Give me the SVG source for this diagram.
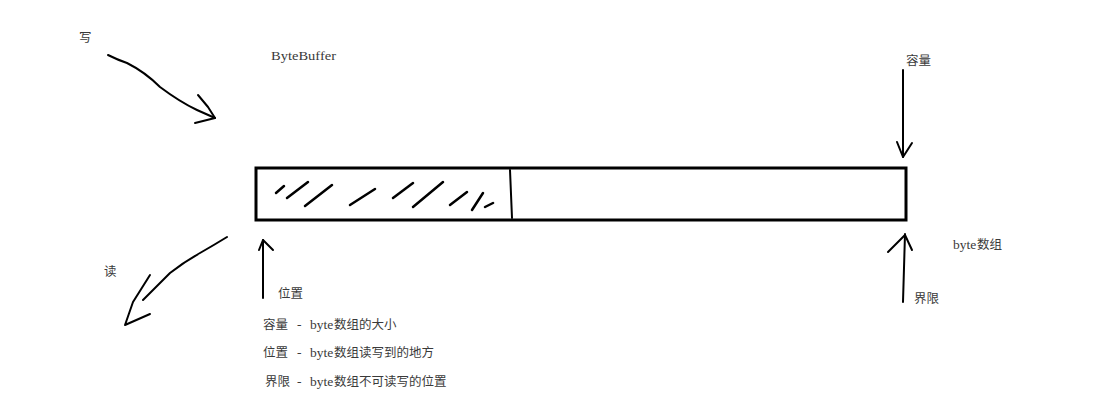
<svg xmlns="http://www.w3.org/2000/svg" width="1099" height="400" viewBox="0 0 1099 400">
<style>
.t{font-family:"Noto Sans CJK SC","Liberation Sans",sans-serif;font-size:12.5px;fill:#3a3a3a}
.l{font-family:"Liberation Serif","Noto Sans CJK SC",serif;font-size:13.5px}
.pen{fill:none;stroke:#000;stroke-width:2;stroke-linecap:round;stroke-linejoin:round}
.hatch{stroke-width:2.5}
</style>
<rect width="1099" height="400" fill="#fff"/>
<g id="buffer">
<rect x="256" y="168" width="650" height="52" fill="#fff" stroke="#000" stroke-width="3"/>
<path class="pen" d="M510 170 L512 218"/>
<g id="hatch" class="pen hatch">
<path d="M276 193 L284 186"/>
<path d="M287 198 L308 182"/>
<path d="M305 206 L332 185"/>
<path d="M350 205 L375 189"/>
<path d="M393 198 L413 183"/>
<path d="M413 207 L443 182"/>
<path d="M450 205 L467 192"/>
<path d="M472 210 L483 193"/>
<path d="M485 207 L493 203"/>
</g>
</g>
<g id="connectors" class="pen">
<path d="M108 55 Q118 60 127 63 Q145 72 160 87 Q180 102 197 110 L215 118"/>
<path d="M198 95 L208 107 L215 118 L195 123"/>
<path d="M227 237 Q214 245 200 253 Q184 262 170 273 L143 300"/>
<path d="M150 275 L133 302 L125 325 L150 314"/>
<path d="M903 70 L903 157"/>
<path d="M897 142 L903 157 L912 143"/>
<path d="M903 302 L905 234"/>
<path d="M888 252 L905 235 L912 250"/>
<path d="M263 298 L263 240"/>
<path d="M259 250 L263 240 L273 250"/>
</g>
<g id="labels">
<text class="t" x="79" y="42">写</text>
<text class="t l" x="271" y="60" textLength="65" lengthAdjust="spacingAndGlyphs">ByteBuffer</text>
<text class="t" x="906" y="65">容量</text>
<text class="t" x="953" y="249"><tspan class="l">byte</tspan><tspan x="977">数组</tspan></text>
<text class="t" x="914" y="303">界限</text>
<text class="t" x="104" y="276">读</text>
<text class="t" x="278" y="298">位置</text>
<text class="t" x="263" y="329">容量<tspan class="l" x="297">-</tspan><tspan class="l" x="310">byte</tspan><tspan x="334">数组的大小</tspan></text>
<text class="t" x="263" y="357">位置<tspan class="l" x="297">-</tspan><tspan class="l" x="310">byte</tspan><tspan x="334">数组读写到的地方</tspan></text>
<text class="t" x="265" y="386">界限<tspan class="l" x="297">-</tspan><tspan class="l" x="310">byte</tspan><tspan x="334">数组不可读写的位置</tspan></text>
</g>
</svg>
